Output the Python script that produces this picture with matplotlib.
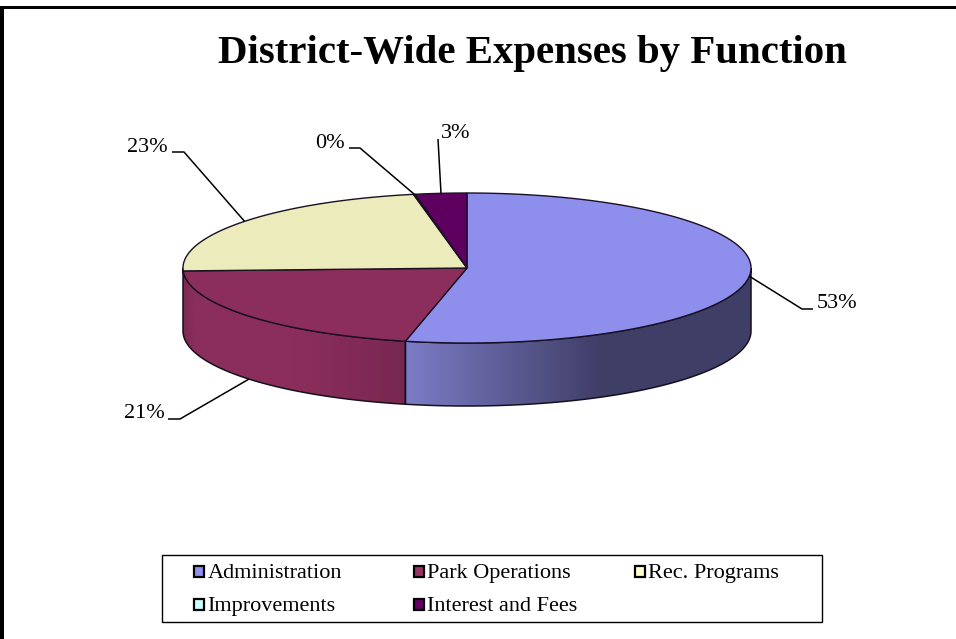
import numpy as np
import matplotlib
matplotlib.use('Agg')
import matplotlib.pyplot as plt
from matplotlib.patches import Polygon, Rectangle

plt.rcParams['font.family'] = ['Liberation Serif', 'DejaVu Serif']

categories = ['Administration', 'Park Operations', 'Rec. Programs', 'Improvements', 'Interest and Fees']
shares = [53.48, 20.9, 22.6, 0.1, 2.92]
top_colors = ['#8e8eec', '#8c2e5c', '#ecebbc', '#c4f4f4', '#5e0060']
legend_colors = ['#9090f0', '#993366', '#ffffcc', '#ccffff', '#660066']

# where each percentage sits, and the elbow of its leader line
label_pos = [(817, 304), (124, 413), (127, 147), (315, 143), (441, 133)]
elbows = [[(802, 309), (813, 309)], [(180, 419), (168, 419)], [(184, 152), (172, 152)],
          [(360, 148), (349, 148)], [(438, 139)]]

W, H = 956, 639
cx, cy = 467, 268
rx, ry = 284, 75
depth = 63


def rim(a0, a1, n=200):
    # a is clockwise from the top, in degrees, measured on the unsquashed disc
    t = np.radians(np.linspace(a0, a1, n))
    return cx + rx * np.sin(t), cy - ry * np.cos(t)


def side_wall(a0, a1, stops):
    # outer wall of the front half, shaded left to right
    x, y = rim(a0, a1)
    pts = np.column_stack([np.r_[x, x[::-1]], np.r_[y, y[::-1] + depth]])
    poly = Polygon(pts, closed=True, fc='none', ec='none')
    ax.add_patch(poly)
    xs = np.linspace(0, 1, 256)
    rgb = np.stack([np.interp(xs, [s[0] for s in stops], [s[1][i] for s in stops]) for i in range(3)], axis=1)
    im = ax.imshow(rgb[None, :, :] / 255, extent=(pts[:, 0].min(), pts[:, 0].max(), cy + ry + depth + 1, cy - 1),
                   aspect='auto', zorder=2, interpolation='bilinear')
    im.set_clip_path(poly)
    ax.add_patch(Polygon(pts, closed=True, fc='none', ec='#151020', lw=1.1, zorder=3))


fig = plt.figure(figsize=(W / 100, H / 100), dpi=100)
ax = fig.add_axes([0, 0, 1, 1])
ax.axis('off')

# heavy rule along the top and left of the page
ax.add_patch(Rectangle((0, 6), W, 3, fc='black', ec='none'))
ax.add_patch(Rectangle((0, 6), 4.5, H - 6, fc='black', ec='none'))

ax.text(532, 63, 'District-Wide Expenses by Function', ha='center', va='baseline',
        fontsize=29.4, fontweight='bold', color='black')

edges = np.cumsum([0] + shares) * 3.6

# only the slices crossing the front half (90..270 deg) show a wall
side_wall(90, edges[1], [(0, (124, 124, 200)), (0.56, (64, 63, 104)), (1, (63, 62, 102))])
side_wall(edges[1], 270, [(0, (126, 42, 82)), (0.05, (138, 46, 91)), (0.5, (140, 46, 92)), (1, (120, 40, 80))])

# top faces of the slices
for i, share in enumerate(shares):
    x, y = rim(edges[i], edges[i + 1])
    pts = np.column_stack([np.r_[cx, x], np.r_[cy, y]])
    ax.add_patch(Polygon(pts, closed=True, fc=top_colors[i], ec='#1a1024', lw=1.0, zorder=4))

# percentage labels with their leader lines, starting at each slice's middle
mids = (edges[:-1] + edges[1:]) / 2
for i, share in enumerate(shares):
    mx, my = rim(mids[i], mids[i], 1)
    start_y = my[0] + depth if i == 1 else my[0]
    path = [(mx[0], start_y)] + elbows[i]
    ax.plot(*zip(*path), color='black', lw=1.1, zorder=5, solid_capstyle='butt')
    ax.text(label_pos[i][0], label_pos[i][1], f'{share:.0f}%', fontsize=16, ha='left', va='center',
            color='black', zorder=6)

# legend
ax.add_patch(Rectangle((162.5, 554.5), 660, 67, fc='white', ec='black', lw=1, zorder=1))
slots = [(193.5, 578), (413.5, 578), (634.5, 578), (193.5, 611), (413.5, 611)]
for (sx, sy), name, col in zip(slots, categories, legend_colors):
    ax.add_patch(Rectangle((sx + 0.5, sy - 12), 10, 11, fc=col, ec='black', lw=1.6, zorder=3))
    ax.text(sx + 14, sy, name, fontsize=16, ha='left', va='baseline', color='black', zorder=3)

ax.set_xlim(0, W)
ax.set_ylim(H, 0)

fig.savefig('out.png', dpi=100, facecolor='white')
